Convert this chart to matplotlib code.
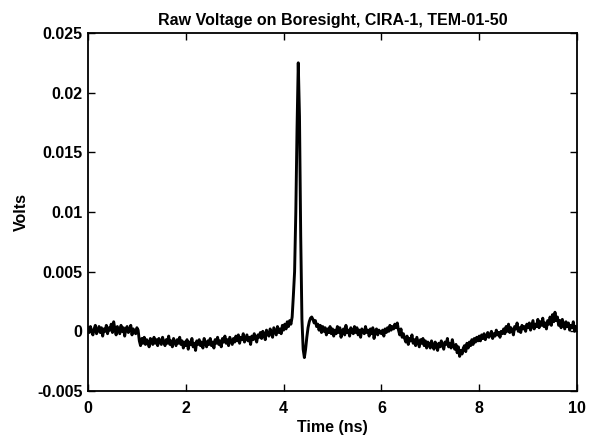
import matplotlib
matplotlib.use("Agg")
import matplotlib.pyplot as plt
import numpy as np

# Sampled voltage on boresight, mV, one value every 0.025 ns from 0 to 10 ns
SAMPLE_STEP_NS = 0.025
volts_mv = [
    # 0.0 - 0.475
    0.3, -0.1, 0.4, 0.0, -0.3, 0.2, 0.5, -0.2, 0.1, 0.4, -0.1, 0.3, -0.4, 0.2, 0.0, 0.5, -0.2, 0.3, 0.1, 0.6,
    # 0.5 - 0.975
    -0.1, 0.8, 0.2, -0.3, 0.4, 0.1, -0.2, 0.5, 0.0, 0.3, -0.4, 0.2, 0.4, -0.1, 0.1, 0.5, -0.3, 0.2, 0.0, -0.2,
    # 1.0 - 1.475
    0.3, 0.1, -0.8, -1.2, -0.6, -1.0, -0.5, -1.1, -0.7, -0.9, -1.3, -0.6, -0.8, -1.1, -0.5, -1.0, -0.7, -1.2, -0.6, -0.9,
    # 1.5 - 1.975
    -1.1, -0.5, -0.9, -1.2, -0.7, -1.0, -0.4, -1.1, -0.8, -1.3, -0.6, -0.9, -1.2, -0.7, -1.0, -0.5, -1.1, -0.8, -1.4, -0.9,
    # 2.0 - 2.475
    -1.2, -0.7, -1.5, -0.9, -1.1, -0.6, -1.3, -1.0, -1.6, -0.8, -1.1, -0.7, -1.2, -0.9, -1.4, -0.6, -1.0, -1.3, -0.8, -1.1,
    # 2.5 - 2.975
    -0.6, -1.2, -0.9, -1.4, -0.7, -1.0, -0.5, -1.1, -0.8, -1.3, -0.6, -0.9, -0.4, -1.0, -0.7, -1.2, -0.5, -0.8, -1.1, -0.6,
    # 3.0 - 3.475
    -0.9, -0.4, -0.8, -0.3, -1.0, -0.5, -0.7, -0.2, -0.9, -0.6, -0.3, -0.8, -0.5, -1.1, -0.4, -0.7, -0.2, -0.6, -0.9, -0.3,
    # 3.5 - 3.975
    -0.5, -0.1, -0.6, 0.0, -0.3, -0.7, 0.1, -0.2, -0.4, 0.2, -0.1, -0.5, 0.3, 0.0, -0.3, 0.4, -0.1, 0.2, -0.2, 0.5,
    # 4.0 - 4.475 (main pulse)
    0.1, 0.6, 0.2, 0.8, 0.4, 0.9, 0.6, 1.2, 3.0, 5.0, 10.0, 17.0, 22.5, 18.0, 8.0, 1.0, -1.5, -2.2, -1.5, -0.5,
    # 4.5 - 4.975
    0.3, 0.8, 1.1, 1.2, 1.0, 0.7, 0.9, 0.4, 0.6, 0.1, 0.5, -0.1, 0.4, 0.0, 0.3, -0.3, 0.2, -0.1, 0.4, -0.2,
    # 5.0 - 5.475
    0.2, -0.4, 0.1, -0.2, 0.4, -0.1, 0.3, -0.5, 0.0, 0.2, -0.3, 0.5, -0.1, 0.1, -0.4, 0.3, 0.0, -0.2, 0.4, -0.1,
    # 5.5 - 5.975
    0.3, -0.3, 0.1, -0.5, 0.2, 0.0, -0.2, 0.4, -0.1, 0.1, -0.4, 0.2, -0.2, 0.3, -0.6, 0.0, 0.2, -0.3, 0.1, -0.1,
    # 6.0 - 6.475
    -0.2, 0.1, -0.4, 0.2, -0.1, 0.3, 0.0, 0.5, 0.1, 0.4, 0.2, 0.6, 0.3, 0.7, 0.1, -0.3, 0.2, -0.5, -0.2, -0.6,
    # 6.5 - 6.975
    -0.9, -0.4, -1.1, -0.6, -0.8, -0.3, -1.0, -0.7, -1.2, -0.5, -0.9, -1.3, -0.7, -1.0, -0.6, -1.2, -0.8, -1.4, -0.9, -1.1,
    # 7.0 - 7.475
    -1.4, -0.8, -1.2, -1.5, -0.9, -1.1, -1.6, -1.0, -1.3, -0.8, -1.2, -1.5, -0.9, -1.1, -0.6, -1.3, -1.0, -1.4, -0.7, -1.2,
    # 7.5 - 7.975
    -1.5, -1.1, -1.8, -1.3, -2.1, -1.6, -1.9, -1.4, -1.2, -1.7, -1.0, -1.4, -0.9, -1.2, -0.7, -1.1, -0.6, -0.9, -0.5, -0.8,
    # 8.0 - 8.475
    -0.4, -0.8, -0.3, -0.6, -0.2, -0.7, -0.4, -0.1, -0.5, -0.3, 0.0, -0.6, -0.2, -0.4, 0.1, -0.3, -0.1, -0.5, 0.0, -0.2,
    # 8.5 - 8.975
    0.2, -0.2, 0.4, 0.0, 0.6, -0.1, 0.3, 0.1, -0.3, 0.4, 0.2, 0.7, 0.0, 0.3, -0.1, 0.5, 0.2, 0.4, 0.0, 0.6,
    # 9.0 - 9.475
    0.3, 0.7, 0.1, 0.5, 0.9, 0.2, 0.6, 0.4, 1.0, 0.3, 0.8, 0.5, 1.1, 0.4, 0.7, 0.2, 0.9, 0.6, 1.2, 0.5,
    # 9.5 - 9.975
    1.4, 0.8, 1.6, 0.9, 1.2, 0.5, 0.9, 0.3, 1.0, 0.6, 0.2, 0.8, 0.4, 0.7, 0.1, 0.5, 0.3, 0.8, 0.0, 0.4,
    # 10.0
    0.2,
]

x_ticks = [0, 2, 4, 6, 8, 10]
y_ticks = [0.025, 0.02, 0.015, 0.01, 0.005, 0, -0.005]
y_tick_labels = ["0.025", "0.02", "0.015", "0.01", "0.005", "0", "-0.005"]

TITLE = "Raw Voltage on Boresight, CIRA-1, TEM-01-50"
FS = 11.5

plt.rcParams.update({
    "font.family": ["Liberation Sans", "DejaVu Sans"],
    "font.weight": "bold",
    "font.size": FS,
})

t = np.arange(len(volts_mv)) * SAMPLE_STEP_NS
v = np.array(volts_mv) / 1000.0

fig = plt.figure(figsize=(5.89, 4.37), dpi=100)
ax = fig.add_axes([0.1494, 0.1053, 0.8302, 0.8192])

ax.plot(t, v, color="black", linewidth=2.1)

ax.set_xlim(0, 10)
ax.set_ylim(-0.005, 0.025)
ax.set_xticks(x_ticks)
ax.set_xticklabels([str(x) for x in x_ticks])
ax.set_yticks(y_ticks)
ax.set_yticklabels(y_tick_labels)
ax.tick_params(direction="in", length=5, width=1, top=True, right=True,
               labelsize=FS)
ax.tick_params(axis="x", pad=7)
ax.tick_params(axis="y", pad=4)
for sp in ax.spines.values():
    sp.set_linewidth(1.3)

ax.set_title(TITLE, fontsize=FS, fontweight="bold", pad=6)
ax.set_xlabel("Time (ns)", fontsize=FS, fontweight="bold", labelpad=3)
ax.set_ylabel("Volts", fontsize=FS, fontweight="bold", labelpad=6)

fig.savefig("out.png", dpi=100)
